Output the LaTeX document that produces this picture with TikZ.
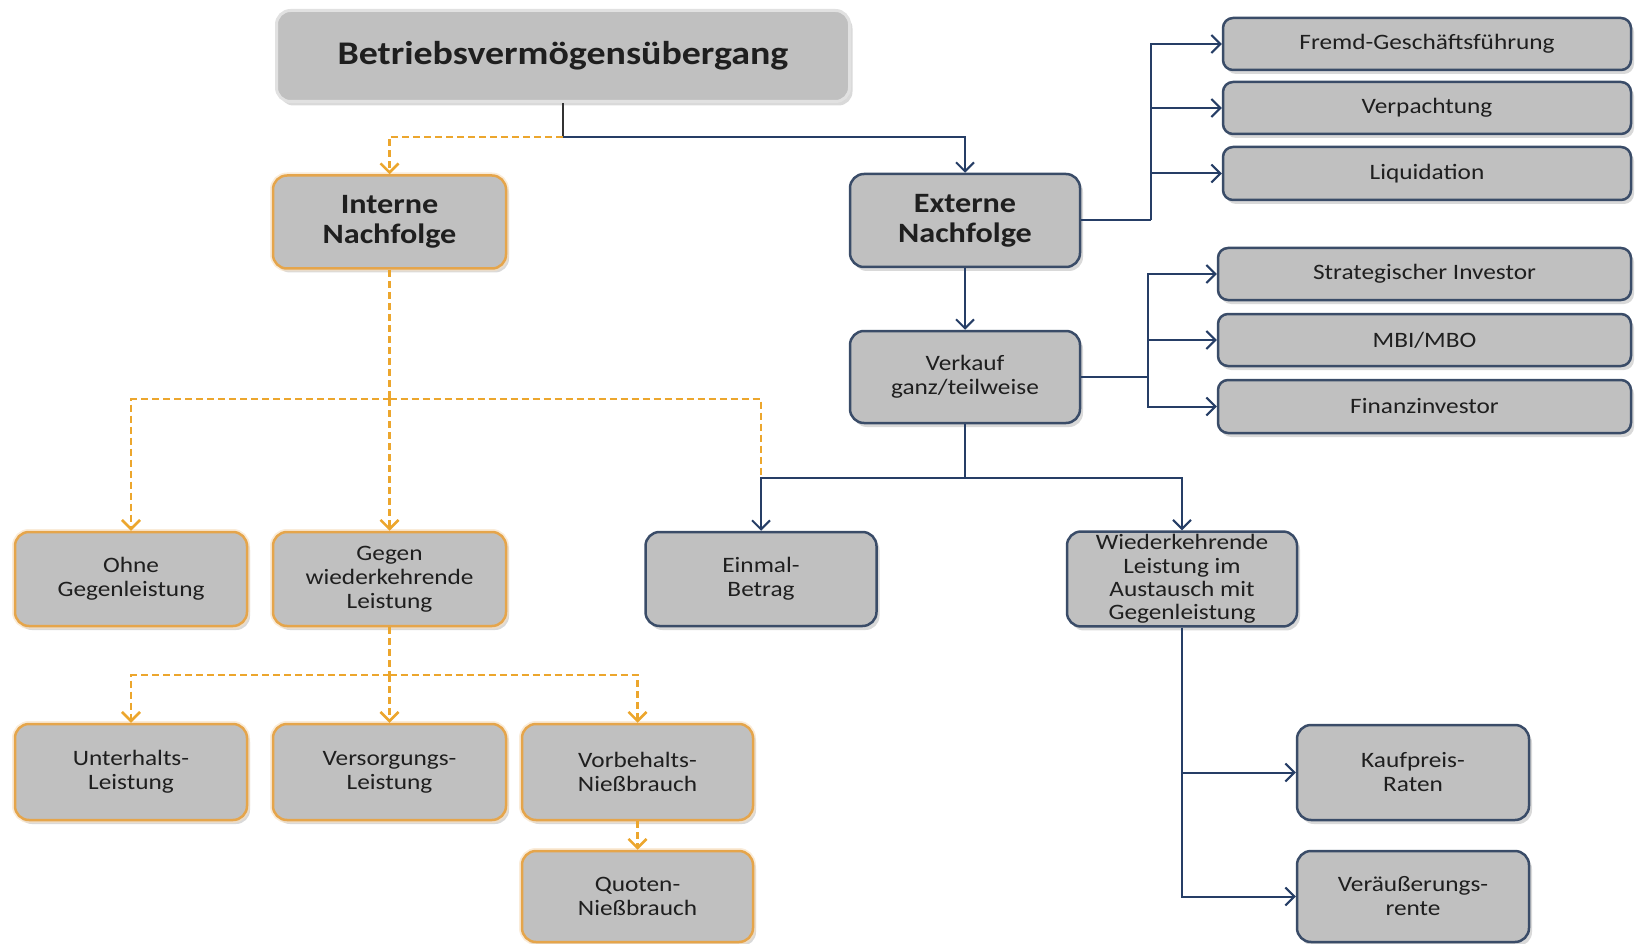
\documentclass[tikz,border=0pt]{standalone}
\usepackage{fontspec}
\setmainfont[FakeStretch=1.15]{Carlito}
\usetikzlibrary{arrows.meta,shadows}
\definecolor{boxfill}{RGB}{192,192,192}
\definecolor{oborder}{RGB}{229,165,75}
\definecolor{bborder}{RGB}{58,76,104}
\definecolor{bline}{RGB}{38,62,102}
\definecolor{oline}{RGB}{236,166,45}
\definecolor{tborder}{RGB}{225,225,225}
\tikzset{
  box/.style={rounded corners=14pt, fill=boxfill, line width=2.5pt, align=center,
    inner sep=3pt, text=black!88, font=\fontsize{22}{24}\selectfont,
    drop shadow={shadow xshift=3pt, shadow yshift=-4pt, opacity=0.3}},
  obox/.style={box, draw=oborder,
    preaction={draw=oborder!35, line width=6pt, opacity=0.6}},
  bbox/.style={box, draw=bborder},
  sbox/.style={bbox, rounded corners=10pt},
  boldtext/.style={font=\fontsize{28}{30}\selectfont\bfseries},
  bconn/.style={draw=bline, line width=2pt},
  oconn/.style={draw=oline, line width=2.5pt, dash pattern=on 7pt off 4pt},
  tip/.style={-{Straight Barb[length=9pt,width=18pt]}},
}
\begin{document}
\begin{tikzpicture}[x=1pt,y=-1pt]
\useasboundingbox (0,0) rectangle (1639,944);
% nodes
\node[box, draw=tborder, line width=3pt, minimum width=573pt, minimum height=91pt,
  font=\fontsize{33}{36}\selectfont\bfseries] (title) at (563,56) {Betriebsvermögensübergang};
\node[obox, boldtext, minimum width=233pt, minimum height=93pt] (intern) at (389.5,222) {Interne\\Nachfolge};
\node[bbox, boldtext, minimum width=230pt, minimum height=93pt] (extern) at (965,220.5) {Externe\\Nachfolge};
\node[bbox, minimum width=230pt, minimum height=92pt] (verkauf) at (965,377) {Verkauf\\ganz/teilweise};
\node[sbox, minimum width=408pt, minimum height=52pt] (fremd) at (1427,44) {Fremd-Geschäftsführung};
\node[sbox, minimum width=408pt, minimum height=52pt] (verp) at (1427,108) {Verpachtung};
\node[sbox, minimum width=408pt, minimum height=53pt] (liq) at (1427,173.5) {Liquidation};
\node[sbox, minimum width=413pt, minimum height=52pt] (strat) at (1424.5,274) {Strategischer Investor};
\node[sbox, minimum width=413pt, minimum height=52pt] (mbi) at (1424.5,340) {MBI/MBO};
\node[sbox, minimum width=413pt, minimum height=53pt] (finanz) at (1424.5,406.5) {Finanzinvestor};
\node[obox, minimum width=232pt, minimum height=94pt] (ohne) at (131,579) {Ohne\\Gegenleistung};
\node[obox, minimum width=233pt, minimum height=94pt] (gegen) at (389.5,579) {Gegen\\wiederkehrende\\Leistung};
\node[bbox, minimum width=231pt, minimum height=94pt] (einmal) at (761,579) {Einmal-\\Betrag};
\node[bbox, minimum width=230pt, minimum height=94pt, font=\fontsize{22}{23.3}\selectfont] (wieder) at (1182,579) {Wiederkehrende\\Leistung im\\Austausch mit\\Gegenleistung};
\node[obox, minimum width=232pt, minimum height=96pt] (unter) at (131,772) {Unterhalts-\\Leistung};
\node[obox, minimum width=233pt, minimum height=96pt] (versorg) at (389.5,772) {Versorgungs-\\Leistung};
\node[obox, minimum width=231pt, minimum height=96pt] (vorbeh) at (637.5,772) {Vorbehalts-\\Nießbrauch};
\node[obox, minimum width=231pt, minimum height=91pt] (quoten) at (637.5,896.5) {Quoten-\\Nießbrauch};
\node[bbox, minimum width=232pt, minimum height=95pt] (kauf) at (1413,772.5) {Kaufpreis-\\Raten};
\node[bbox, minimum width=232pt, minimum height=91pt] (verau) at (1413,896.5) {Veräußerungs-\\rente};
% level coordinates
\coordinate (y1) at (0,137);
\coordinate (y2) at (0,399);
\coordinate (y3) at (0,478);
\coordinate (y4) at (0,675);
\coordinate (x1) at (1151,0);
\coordinate (x2) at (1148,0);
% connectors
\draw[draw=black!80, line width=2pt] (title.south) -- (title.south |- y1);
\draw[bconn, tip] (title.south |- y1) -| (extern.north);
\draw[oconn, tip] (title.south |- y1) -| (intern.north);
% interne
\draw[oconn] (intern.south) -- (intern.south |- y2);
\draw[oconn, tip] (intern.south |- y2) -| (ohne.north);
\draw[oconn, tip] (intern.south |- y2) -- (gegen.north);
\draw[oconn] (intern.south |- y2) -| (einmal.north |- y3);
% externe
\draw[bconn, tip] (extern.south) -- (verkauf.north);
\draw[bconn] (extern.east) -- (extern.east -| x1);
\draw[bconn, tip] (extern.east -| x1) |- (fremd.west);
\draw[bconn, tip] (extern.east -| x1) |- (verp.west);
\draw[bconn, tip] (extern.east -| x1) |- (liq.west);
\draw[bconn] (verkauf.east) -- (verkauf.east -| x2);
\draw[bconn, tip] (verkauf.east -| x2) |- (strat.west);
\draw[bconn, tip] (verkauf.east -| x2) |- (mbi.west);
\draw[bconn, tip] (verkauf.east -| x2) |- (finanz.west);
\draw[bconn] (verkauf.south) -- (verkauf.south |- y3);
\draw[bconn, tip] (verkauf.south |- y3) -| (einmal.north);
\draw[bconn, tip] (verkauf.south |- y3) -| (wieder.north);
% gegen
\draw[oconn] (gegen.south) -- (gegen.south |- y4);
\draw[oconn, tip] (gegen.south |- y4) -| (unter.north);
\draw[oconn, tip] (gegen.south |- y4) -- (versorg.north);
\draw[oconn, tip] (gegen.south |- y4) -| (vorbeh.north);
\draw[oconn, tip] (vorbeh.south) -- (quoten.north);
% wiederkehrende
\draw[bconn, tip] (wieder.south) |- (kauf.west);
\draw[bconn, tip] (wieder.south) |- (verau.west);
\end{tikzpicture}
\end{document}
